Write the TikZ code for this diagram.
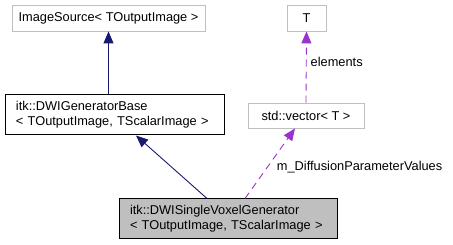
\documentclass[tikz,border=0pt]{standalone}
\usepackage{fontspec}
\setmainfont{Liberation Sans}
\usetikzlibrary{arrows.meta}
\definecolor{edgeblue}{HTML}{191970}
\definecolor{edgepurple}{HTML}{9A32CD}
\definecolor{boxgray}{HTML}{BFBFBF}

\begin{document}
\begin{tikzpicture}[x=1pt,y=-1pt,
  every node/.style={font=\fontsize{12.8}{15}\selectfont,inner sep=0pt,text=black},
  greybox/.style={draw=boxgray,line width=0.9pt,fill=white},
  classbox/.style={draw=black,line width=1pt,align=left,text width=#1},
  inherit/.style={edgeblue,line width=0.9pt,-{Triangle[length=12pt,width=10pt]}},
  usage/.style={edgepurple,line width=0.9pt,dash pattern=on 7pt off 5pt,-{Triangle[length=12pt,width=10pt]}}]
  \useasboundingbox (0,0) rectangle (453,245);
  %\draw[help lines] (0,0) grid[step=20pt] (453,245);
  \node[greybox,minimum width=193pt,minimum height=26pt] (src) at (108.5,18) {ImageSource< TOutputImage >};
  \node[greybox,minimum width=39pt,minimum height=26pt] (t) at (306.5,18) {T};
  \node[classbox=197pt,minimum height=40pt,inner xsep=11pt] (base) at (114.5,115) {itk::DWIGeneratorBase\\< TOutputImage, TScalarImage >};
  \node[greybox,minimum width=116pt,minimum height=25pt] (vec) at (306,115.5) {std::vector< T >};
  \node[classbox=196pt,fill=boxgray,minimum height=40pt,inner xsep=11pt] (gen) at (228,219) {itk::DWISingleVoxelGenerator\\< TOutputImage, TScalarImage >};
  \draw[inherit] (base.north -| src.south) -- (src.south);
  \draw[inherit] ([xshift=-21pt]gen.north) -- ([xshift=21.5pt]base.south);
  \draw[usage] (vec.north) -- node[pos=0.57,anchor=west,xshift=4pt] {elements} (t.south);
  \draw[usage] ([xshift=17pt]gen.north) -- node[pos=0.45,anchor=west,xshift=9pt] {m\_DiffusionParameterValues} ([xshift=-11pt]vec.south);
\end{tikzpicture}
\end{document}
